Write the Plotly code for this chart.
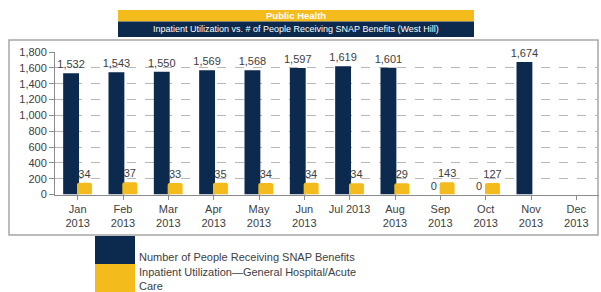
import plotly.graph_objects as go

# ---- data ----
months = ["Jan<br>2013", "Feb<br>2013", "Mar<br>2013", "Apr<br>2013", "May<br>2013", "Jun<br>2013",
          "Jul 2013", "Aug<br>2013", "Sep<br>2013", "Oct<br>2013", "Nov<br>2013", "Dec<br>2013"]
snap_people = [1532, 1543, 1550, 1569, 1568, 1597, 1619, 1601, 0, 0, 1674, None]
inpatient_labels = [34, 37, 33, 35, 34, 34, 34, 29, 143, 127, None, None]
# drawn heights of the yellow bars (left axis units)
inpatient_heights = [150, 154, 146, 150, 146, 150, 142, 142, 154, 146, None, None]
series_names = ["Number of People Receiving SNAP Benefits",
                "Inpatient Utilization\u2014General Hospital/Acute<br>Care"]
title_top = "Public Health"
title_sub = "Inpatient Utilization vs. # of People Receiving SNAP Benefits (West Hill)"
y_ticks = [0, 200, 400, 600, 800, 1000, 1200, 1400, 1600, 1800]

NAVY = "#0c2a4d"
YELLOW = "#f3bb1b"
TXT = "#404040"
FONT = "Liberation Sans, Arial, sans-serif"
W, H = 601, 292

def px(x):
    return x / W

def py(y):
    return 1 - y / H

fig = go.Figure()
fig.add_trace(go.Bar(
    x=list(range(12)), y=snap_people, name=series_names[0],
    marker=dict(color=NAVY, line=dict(width=0)),
    offset=-0.32, width=0.35,
    text=[f"{v:,}" if v is not None else "" for v in snap_people],
    textposition="outside", cliponaxis=False, constraintext="none",
    textfont=dict(size=11, color=TXT, family=FONT),
    showlegend=False, hoverinfo="skip",
))
fig.add_trace(go.Bar(
    x=list(range(12)), y=inpatient_heights, name=series_names[1],
    marker=dict(color=YELLOW, line=dict(width=0), cornerradius=2),
    offset=-0.015, width=0.33,
    text=[str(v) if v is not None else "" for v in inpatient_labels],
    textposition="outside", cliponaxis=False, constraintext="none",
    textfont=dict(size=11, color=TXT, family=FONT),
    showlegend=False, hoverinfo="skip",
))

shapes = [
    # chart frame
    dict(type="rect", xref="paper", yref="paper", x0=px(9), x1=px(598), y0=py(235), y1=py(40),
         line=dict(color="#a6a6a6", width=1.5), fillcolor="rgba(0,0,0,0)", layer="below"),
    # title banners
    dict(type="rect", xref="paper", yref="paper", x0=px(118), x1=px(474), y0=py(21.5), y1=py(10),
         line=dict(width=0), fillcolor=YELLOW),
    dict(type="rect", xref="paper", yref="paper", x0=px(118), x1=px(474), y0=py(37), y1=py(21.5),
         line=dict(width=0), fillcolor=NAVY),
    # legend swatches
    dict(type="rect", xref="paper", yref="paper", x0=px(95), x1=px(135), y0=py(264), y1=py(236),
         line=dict(width=0), fillcolor=NAVY),
    dict(type="rect", xref="paper", yref="paper", x0=px(95), x1=px(135), y0=py(292), y1=py(264),
         line=dict(width=0), fillcolor=YELLOW),
]

annotations = [
    dict(text=f"<b>{title_top}</b>", xref="paper", yref="paper", x=px(296), y=py(15.8),
         showarrow=False, font=dict(size=9.5, color="white", family=FONT), xanchor="center", yanchor="middle"),
    dict(text=title_sub, xref="paper", yref="paper", x=px(296), y=py(29.3),
         showarrow=False, font=dict(size=9, color="white", family=FONT), xanchor="center", yanchor="middle"),
    dict(text=series_names[0], xref="paper", yref="paper", x=px(137), y=py(257),
         showarrow=False, font=dict(size=11, color=TXT, family=FONT), xanchor="left", yanchor="middle"),
    dict(text=series_names[1], xref="paper", yref="paper", x=px(137), y=py(279),
         showarrow=False, font=dict(size=11, color=TXT, family=FONT), xanchor="left", yanchor="middle",
         align="left"),
]

fig.update_layout(
    width=W, height=H,
    margin=dict(l=0, r=0, t=0, b=0, pad=0, autoexpand=False),
    paper_bgcolor="white", plot_bgcolor="white",
    barmode="overlay",
    font=dict(family=FONT, size=11, color=TXT),
    shapes=shapes, annotations=annotations,
    hovermode=False,
    xaxis=dict(
        domain=[px(55), px(599)], range=[-0.5, 11.5], automargin=False,
        tickmode="array", tickvals=list(range(12)), ticktext=months,
        tickson="boundaries", ticks="outside", ticklen=4, tickcolor="#8c8c8c",
        showline=True, linecolor="#8c8c8c", linewidth=1,
        showgrid=False, zeroline=False,
        tickfont=dict(size=11, color=TXT, family=FONT),
    ),
    yaxis=dict(
        domain=[py(194.5), py(52)], range=[0, 1800], automargin=False,
        tickmode="array", tickvals=y_ticks, ticktext=[f"{v:,}" for v in y_ticks],
        ticks="outside", ticklen=5, tickcolor="#8c8c8c",
        showline=True, linecolor="#8c8c8c", linewidth=1,
        showgrid=True, gridcolor="#b8b8b8", griddash="dash", gridwidth=1,
        zeroline=False,
        tickfont=dict(size=11, color=TXT, family=FONT),
    ),
)

fig.write_html(
    "out.html",
    config={"responsive": False, "displayModeBar": False},
    post_script="document.body.style.margin='0';document.body.style.overflow='hidden';",
)
